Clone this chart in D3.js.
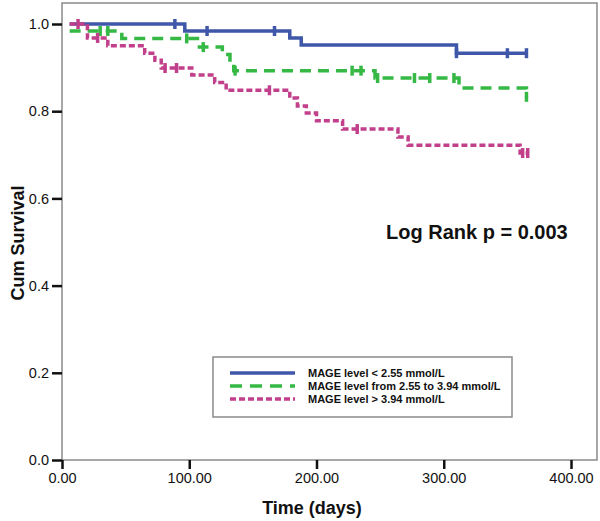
<!DOCTYPE html>
<html><head><meta charset="utf-8">
<script src="https://cdn.jsdelivr.net/npm/d3@7"></script>
<style>body{margin:0;background:#fff}text{font-family:"Liberation Sans",Arial,sans-serif}</style>
</head><body>
<svg id="c" width="600" height="521"></svg>
<script>
// ---- data ----
const legendLabels = ["MAGE level < 2.55 mmol/L", "MAGE level from 2.55 to 3.94 mmol/L", "MAGE level > 3.94 mmol/L"];
const xTicks = [0, 100, 200, 300, 400];
const yTicks = [0, 0.2, 0.4, 0.6, 0.8, 1.0];

const lowTimes = [6, 96.5, 179, 188, 310, 365];
const lowSurv  = [1.0, 0.984, 0.968, 0.952, 0.933, 0.933];
const lowCensor = [88.7, 114, 167, 310, 350, 365];

const midTimes = [6, 47, 108, 126, 132, 135, 246, 312, 365];
const midSurv  = [0.984, 0.967, 0.947, 0.930, 0.912, 0.893, 0.876, 0.853, 0.833];
const midCensor = [30, 36, 98, 111, 136, 228, 235, 248, 277, 289, 308, 365];

const highTimes = [6, 20, 36, 65, 73, 78, 102, 120, 129, 179, 185, 192, 200, 220.5, 264, 272, 360, 366];
const highSurv  = [1.0, 0.968, 0.950, 0.933, 0.917, 0.899, 0.883, 0.866, 0.848, 0.830, 0.812, 0.796, 0.778, 0.759, 0.741, 0.722, 0.704, 0.704];
const highCensor = [12.6, 28, 81, 90, 163, 232, 362, 366];

const logRankText = "Log Rank p = 0.003";

// ---- layout ----
const svg = d3.select("#c");
const x = d3.scaleLinear().domain([0, 400]).range([62, 571]);
const y = d3.scaleLinear().domain([0, 1]).range([460, 24]);
const frame = {l: 62, r: 597, t: 3, b: 460};

const series = [
  {times: lowTimes, surv: lowSurv, censor: lowCensor, color: "#3f57a8", dash: null},
  {times: midTimes, surv: midSurv, censor: midCensor, color: "#35b944", dash: "11,7"},
  {times: highTimes, surv: highSurv, censor: highCensor, color: "#c13f8b", dash: "6,3"}
];

function survAt(s, t) {
  let v = s.surv[0];
  for (let i = 0; i < s.times.length; i++) if (s.times[i] <= t) v = s.surv[i];
  return v;
}

// frame
svg.append("rect").attr("x", frame.l).attr("y", frame.t)
  .attr("width", frame.r - frame.l).attr("height", frame.b - frame.t)
  .attr("fill", "none").attr("stroke", "#8a8a8a").attr("stroke-width", 1.5);

// axes
const gy = svg.append("g").attr("transform", `translate(${frame.l},0)`)
  .call(d3.axisLeft(y).tickValues(yTicks).tickFormat(d3.format(".1f")).tickSize(10).tickPadding(3));
const gx = svg.append("g").attr("transform", `translate(0,${frame.b})`)
  .call(d3.axisBottom(x).tickValues(xTicks).tickFormat(d3.format(".2f")).tickSize(9).tickPadding(4));
[gy, gx].forEach(g => {
  g.select(".domain").remove();
  g.selectAll(".tick line").attr("stroke", "#111").attr("stroke-width", 2.5);
  g.selectAll(".tick text").attr("fill", "#111").style("font-size", "14.5px");
});

// curves
const line = d3.line().x(d => x(d[0])).y(d => y(d[1])).curve(d3.curveStepAfter);
series.forEach(s => {
  const pts = s.times.map((t, i) => [t, s.surv[i]]);
  svg.append("path").attr("d", line(pts)).attr("fill", "none")
    .attr("stroke", s.color).attr("stroke-width", 3.5)
    .attr("stroke-dasharray", s.dash);
});
series.forEach(s => {
  svg.append("g").selectAll("line").data(s.censor).join("line")
    .attr("x1", d => x(d)).attr("x2", d => x(d))
    .attr("y1", d => y(survAt(s, d)) - 5).attr("y2", d => y(survAt(s, d)) + 5)
    .attr("stroke", s.color).attr("stroke-width", 3.5);
});

// titles
svg.append("text").attr("transform", "translate(24,243) rotate(-90)")
  .attr("text-anchor", "middle").style("font-size", "18px").style("font-weight", "bold")
  .attr("fill", "#111").text("Cum Survival");
svg.append("text").attr("x", 312).attr("y", 514).attr("text-anchor", "middle")
  .style("font-size", "18px").style("font-weight", "bold").attr("fill", "#111").text("Time (days)");
svg.append("text").attr("x", 386).attr("y", 239)
  .style("font-size", "20px").style("font-weight", "bold").attr("fill", "#111").text(logRankText);

// legend
const lg = svg.append("g");
lg.append("rect").attr("x", 213).attr("y", 357).attr("width", 299).attr("height", 60)
  .attr("fill", "#fff").attr("stroke", "#8a8a8a").attr("stroke-width", 1.5);
series.forEach((s, i) => {
  const yy = 373 + i * 13;
  lg.append("line").attr("x1", 230).attr("x2", 295).attr("y1", yy).attr("y2", yy)
    .attr("stroke", s.color).attr("stroke-width", 3.5).attr("stroke-dasharray", s.dash ? (i === 1 ? "12,8" : "6,3") : null);
  lg.append("text").attr("x", 308).attr("y", yy + 4).style("font-size", "11px")
    .style("font-weight", "bold").attr("fill", "#111").text(legendLabels[i]);
});
</script>
</body></html>
